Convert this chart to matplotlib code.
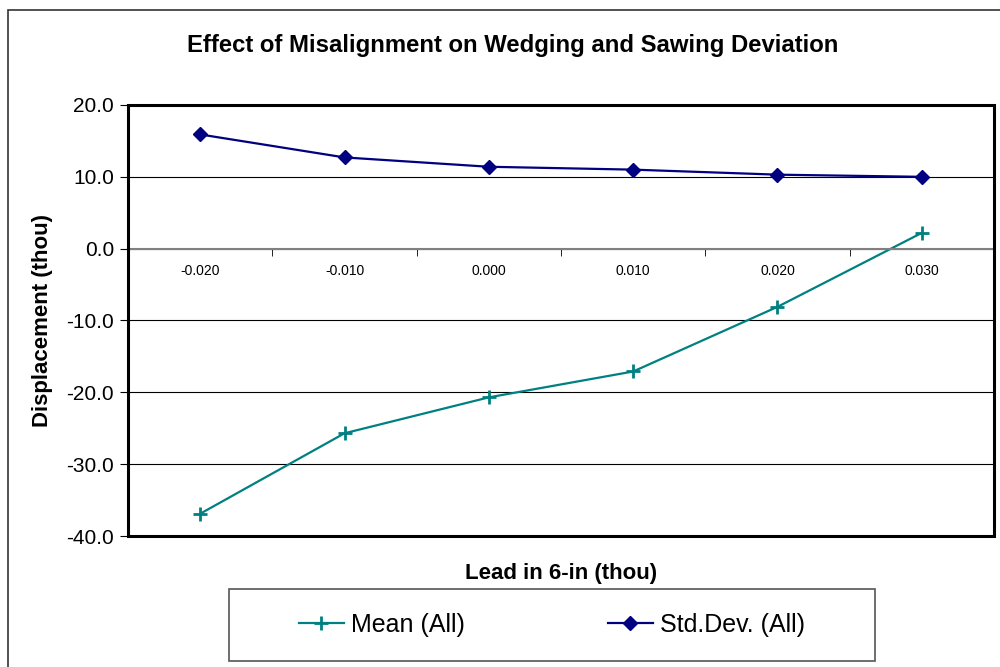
import matplotlib.pyplot as plt
from matplotlib.patches import Rectangle
import numpy as np

plt.rcParams['font.family'] = ['Liberation Sans', 'DejaVu Sans']

# donnees
lead = ['-0.020', '-0.010', '0.000', '0.010', '0.020', '0.030']
mean_all = [-36.9, -25.7, -20.7, -17.1, -8.1, 2.2]
std_all = [15.9, 12.7, 11.4, 11.0, 10.3, 10.0]

teal = '#008080'
navy = '#000080'

fig = plt.figure(figsize=(10, 6.67), dpi=100)
ax = fig.add_axes([0.128, 0.1964, 0.866, 0.6462])

x = np.arange(len(lead))
ax.plot(x, mean_all, color=teal, lw=1.6, marker='+', ms=10, mew=2, label='Mean (All)')
ax.plot(x, std_all, color=navy, lw=1.6, marker='D', ms=7.5, label='Std.Dev. (All)')

ax.set_xlim(-0.5, len(lead) - 0.5)
ax.set_ylim(-40, 20)
ax.set_yticks(np.arange(-40, 21, 10))
ax.set_yticklabels(['%.1f' % v for v in np.arange(-40, 21, 10)], fontsize=15)
ax.yaxis.grid(True, color='black', lw=0.8)
ax.set_axisbelow(True)

# axe des categories a y=0
for s in ['top', 'right', 'left']:
    ax.spines[s].set_visible(False)
ax.spines['bottom'].set_position(('data', 0))
ax.spines['bottom'].set_color('#808080')
ax.spines['bottom'].set_linewidth(1.5)
ax.set_xticks(x)
ax.set_xticklabels(lead, fontsize=10)
ax.tick_params(axis='x', which='major', length=0, pad=11)
ax.set_xticks(x[:-1] + 0.5, minor=True)
ax.tick_params(axis='x', which='minor', length=5, direction='out', color='black')
ax.tick_params(axis='y', length=6, direction='out', color='black', pad=4)

ax.add_patch(Rectangle((0, 0), 1, 1, transform=ax.transAxes, fill=False,
                       ec='black', lw=2.2, clip_on=False, zorder=5))

ax.set_ylabel('Displacement (thou)', fontsize=16, fontweight='bold')
ax.yaxis.set_label_coords(-0.099, 0.5)
ax.yaxis.label.set_va('center')
ax.set_xlabel('Lead in 6-in (thou)', fontsize=16, fontweight='bold')
ax.xaxis.set_label_coords(0.5, -0.086)
ax.xaxis.label.set_va('center')

fig.text(0.513, 0.9325, 'Effect of Misalignment on Wedging and Sawing Deviation',
         ha='center', va='center', fontsize=17.2, fontweight='bold')

# cadres
fig.patches.append(Rectangle((0.008, -0.2), 1.2, 1.185, transform=fig.transFigure,
                             fill=False, ec='#333333', lw=1.2))
fig.patches.append(Rectangle((0.229, 0.009), 0.646, 0.108, transform=fig.transFigure,
                             fill=False, ec='#555555', lw=1.2))
fig.legend(loc='center', bbox_to_anchor=(0.552, 0.063), ncol=2, frameon=False,
           fontsize=18, handlelength=1.8, handletextpad=0.3, columnspacing=5.7)

plt.savefig('out.png', dpi=100)
